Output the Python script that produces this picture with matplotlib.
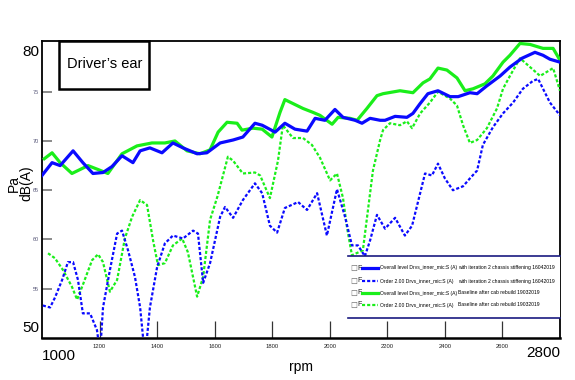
import matplotlib
matplotlib.use("Agg")
import matplotlib.pyplot as plt
from matplotlib.lines import Line2D
from matplotlib.patches import Rectangle
from matplotlib import font_manager

names = {f.name for f in font_manager.fontManager.ttflist}
NARROW = [n for n in ['Liberation Sans Narrow', 'Liberation Sans', 'DejaVu Sans'] if n in names] + ['DejaVu Sans']

# ---------------- data ----------------
blue_solid_rpm = [1000, 1035, 1063, 1108, 1142, 1177, 1212, 1243, 1278, 1316, 1341, 1375, 1417, 1455,
                  1490, 1539, 1573, 1619, 1664, 1698, 1740, 1765, 1810, 1844, 1879, 1921, 1949, 1983,
                  2018, 2046, 2088, 2112, 2140, 2175, 2192, 2227, 2268, 2289, 2314, 2341, 2376, 2418,
                  2446, 2487, 2512, 2546, 2592, 2626, 2668, 2713, 2741, 2765, 2800]
blue_solid_db = [66.5, 67.8, 67.5, 69.0, 67.8, 66.7, 66.8, 67.4, 68.5, 67.8, 69.0, 69.3, 68.8, 69.8,
                 69.3, 68.7, 68.8, 69.8, 70.1, 70.4, 71.8, 71.6, 70.9, 71.8, 71.2, 71.0, 72.3, 72.1,
                 73.2, 72.4, 72.1, 71.8, 72.3, 72.1, 72.1, 72.5, 72.4, 72.8, 73.8, 74.8, 75.1, 74.5,
                 74.5, 74.9, 74.8, 75.6, 76.6, 77.5, 78.4, 79.0, 78.7, 78.3, 78.0]

blue_dot_rpm = [1003, 1028, 1045, 1070, 1090, 1108, 1125, 1142, 1167, 1191, 1202, 1212, 1236, 1261,
                1278, 1299, 1323, 1341, 1358, 1375, 1400, 1427, 1455, 1490, 1525, 1542, 1560, 1584,
                1619, 1636, 1664, 1698, 1740, 1765, 1792, 1817, 1844, 1890, 1921, 1956, 1990, 2025,
                2053, 2077, 2098, 2122, 2140, 2164, 2192, 2227, 2261, 2286, 2314, 2331, 2355, 2376,
                2400, 2428, 2463, 2487, 2512, 2532, 2567, 2602, 2637, 2671, 2706, 2724, 2741, 2765, 2800]
blue_dot_db = [53.3, 53.1, 54.1, 55.9, 57.7, 57.7, 55.9, 52.5, 52.5, 50.8, 48.5, 53.1, 56.9, 60.6,
               60.9, 58.9, 56.2, 53.1, 48.0, 53.1, 57.2, 59.6, 60.4, 60.1, 60.9, 60.6, 55.6, 57.6,
               62.3, 63.3, 62.2, 64.0, 65.7, 64.7, 61.4, 60.7, 63.2, 63.8, 63.0, 64.7, 60.4, 65.1,
               62.3, 59.4, 59.4, 58.3, 59.9, 62.5, 61.1, 62.2, 60.4, 61.4, 64.7, 66.7, 66.5, 67.7,
               66.2, 65.0, 65.4, 66.2, 67.0, 69.6, 71.4, 72.8, 73.9, 75.3, 76.1, 76.3, 75.3, 73.9, 72.6]

green_solid_rpm = [1008, 1035, 1063, 1104, 1132, 1160, 1195, 1229, 1278, 1330, 1382, 1427, 1462, 1504,
                   1549, 1584, 1612, 1643, 1678, 1695, 1733, 1765, 1799, 1827, 1844, 1872, 1907, 1942,
                   1966, 2008, 2029, 2070, 2095, 2129, 2164, 2185, 2244, 2289, 2324, 2348, 2376, 2407,
                   2442, 2470, 2498, 2539, 2567, 2602, 2626, 2661, 2696, 2741, 2776, 2800]
green_solid_db = [68.2, 68.8, 67.8, 66.7, 67.1, 67.5, 67.1, 66.7, 68.7, 69.5, 69.8, 69.8, 70.0, 69.0,
                  68.7, 69.1, 70.9, 71.9, 71.8, 71.1, 71.3, 71.2, 70.4, 72.9, 74.2, 73.8, 73.3, 72.9,
                  72.6, 71.7, 72.4, 72.3, 72.1, 73.3, 74.6, 74.8, 75.1, 74.9, 75.9, 76.3, 77.4, 77.2,
                  76.4, 75.1, 75.3, 75.8, 76.6, 78.0, 78.7, 79.9, 79.8, 79.4, 79.4, 78.2]

green_dot_rpm = [1021, 1045, 1073, 1104, 1122, 1142, 1174, 1195, 1212, 1236, 1261, 1288, 1313, 1341,
                 1365, 1386, 1403, 1427, 1455, 1487, 1507, 1539, 1560, 1584, 1610, 1646, 1664, 1698,
                 1740, 1758, 1792, 1820, 1837, 1872, 1907, 1938, 1966, 2001, 2025, 2046, 2060, 2077,
                 2115, 2150, 2175, 2185, 2209, 2244, 2268, 2286, 2314, 2348, 2376, 2418, 2442, 2463,
                 2487, 2512, 2546, 2581, 2602, 2626, 2661, 2696, 2731, 2776, 2800]
green_dot_db = [58.6, 58.1, 56.9, 55.2, 53.9, 55.4, 57.9, 58.5, 57.7, 54.7, 55.9, 60.1, 62.3, 64.0,
                63.5, 59.9, 57.4, 57.6, 59.4, 60.1, 58.7, 54.2, 56.2, 62.0, 64.4, 68.4, 68.0, 66.7,
                66.8, 66.5, 64.2, 68.0, 71.6, 70.3, 70.3, 69.6, 68.3, 66.0, 66.7, 64.2, 61.2, 58.4,
                58.9, 67.0, 70.1, 71.1, 71.8, 71.6, 72.0, 71.3, 72.8, 73.9, 75.0, 74.3, 73.6, 71.6,
                69.8, 70.1, 71.3, 73.3, 75.3, 76.6, 78.4, 77.5, 76.6, 77.4, 75.1]

small_xticks = [1200, 1400, 1600, 1800, 2000, 2200, 2400, 2600]
small_yticks = [55, 60, 65, 70, 75]

legend_names = ["Overall level Drvs_inner_mic:S (A)", "Order 2.00 Drvs_inner_mic:S (A)",
                "Overall level Drvs_inner_mic:S (A)", "Order 2.00 Drvs_inner_mic:S (A)"]
legend_runs = ["with iteration 2 chassis stiffening 16042019", "with iteration 2 chassis stiffening 16042019",
               "Baseline after cab rebuild 19032019", "Baseline after cab rebuild 19032019"]

BLUE = '#0a0aff'
GREEN = '#1aee1a'
DOT = (0, (1.4, 0.9))

# ---------------- figure ----------------
W, H = 575, 380
fig = plt.figure(figsize=(W / 100, H / 100), dpi=100)
L, R, B, T = 42, 560, 338, 40.5
ax = fig.add_axes([L / W, 1 - B / H, (R - L) / W, (B - T) / H])
ax.set_xlim(1000, 2800)
ax.set_ylim(50, 80.2)

ax.plot(green_dot_rpm, green_dot_db, color=GREEN, lw=1.6, ls=DOT, zorder=3)
ax.plot(blue_dot_rpm, blue_dot_db, color=BLUE, lw=1.6, ls=DOT, zorder=3)
ax.plot(green_solid_rpm, green_solid_db, color=GREEN, lw=2.3, zorder=4, solid_joinstyle='round')
ax.plot(blue_solid_rpm, blue_solid_db, color=BLUE, lw=2.3, zorder=5, solid_joinstyle='round')

for s in ax.spines.values():
    s.set_color('black')
    s.set_linewidth(1.3)
ax.spines['bottom'].set_linewidth(1.8)

# ticks: inward short marks, small labels
ax.set_xticks(small_xticks)
ax.set_xticklabels([str(v) for v in small_xticks], fontsize=4.2, family=NARROW, color='#222222')
ax.tick_params(axis='x', direction='in', length=12, width=0.9, color='#333333', pad=4)
ax.set_yticks(small_yticks)
ax.set_yticklabels([str(v) for v in small_yticks], fontsize=4.0, family=NARROW, color='#555577')
ax.tick_params(axis='y', direction='in', length=7, width=1.2, color='#777777', pad=2)

# big end labels
big = dict(fontsize=11, family=NARROW)
ax.text(-0.005, 79.0, "80", transform=ax.get_yaxis_transform(), ha='right', va='center', **big)
ax.text(-0.005, 51.0, "50", transform=ax.get_yaxis_transform(), ha='right', va='center', **big)
ax.text(1000, -0.06, "1000", transform=ax.get_xaxis_transform(), ha='left', va='center', **big)
ax.text(2800, -0.05, "2800", transform=ax.get_xaxis_transform(), ha='right', va='center', **big)

ax.set_xlabel("rpm", fontsize=10, family=NARROW, labelpad=8)
fig.text(20 / W, 1 - 183 / H, "Pa\ndB(A)", rotation=90, ha='center', va='center',
         fontsize=10, family=NARROW, linespacing=0.9)

# title box
bx0, bx1, by0, by1 = 59, 149, 40.5, 89
fig.add_artist(Rectangle((bx0 / W, 1 - by1 / H), (bx1 - bx0) / W, (by1 - by0) / H,
                         fc='white', ec='black', lw=1.8, zorder=10))
fig.text(67 / W, 1 - 64 / H, "Driver\u2019s ear", ha='left', va='center', fontsize=10.5,
         family=NARROW, zorder=11)

# legend
lx0, lx1 = 348, 560
fig.add_artist(Rectangle((lx0 / W, 1 - 318 / H), (lx1 - lx0) / W, 62 / H, fc='white', ec='none', zorder=6))
fig.add_artist(Line2D([lx0 / W, lx1 / W], [1 - 256 / H] * 2, color='#1a1a80', lw=1.2, zorder=7))
fig.add_artist(Line2D([lx0 / W, lx1 / W], [1 - 318 / H] * 2, color='#1a1a80', lw=1.2, zorder=7))
styles = [(BLUE, '-', 2.3), (BLUE, DOT, 1.6), (GREEN, '-', 2.3), (GREEN, DOT, 1.6)]
ys = [268, 281, 293, 305]
for (c, ls, lw), y, n, r in zip(styles, ys, legend_names, legend_runs):
    yy = 1 - y / H
    fig.text(350 / W, yy, "\u2610", fontsize=5.5, color='#666666', ha='left', va='center', zorder=8,
             family=['DejaVu Sans'])
    fig.text(357.5 / W, yy, "F", fontsize=5, color='#222222', ha='left', va='center', zorder=8,
             family=NARROW)
    fig.add_artist(Line2D([362 / W, 378 / W], [yy, yy], color=c, ls=ls, lw=lw, zorder=8))
    fig.text(380 / W, yy, n, fontsize=3.6, family=NARROW, ha='left', va='center', zorder=8)
    fig.text(458 / W, yy, r, fontsize=3.6, family=NARROW, ha='left', va='center', zorder=8)

fig.savefig("out.png", dpi=100)
